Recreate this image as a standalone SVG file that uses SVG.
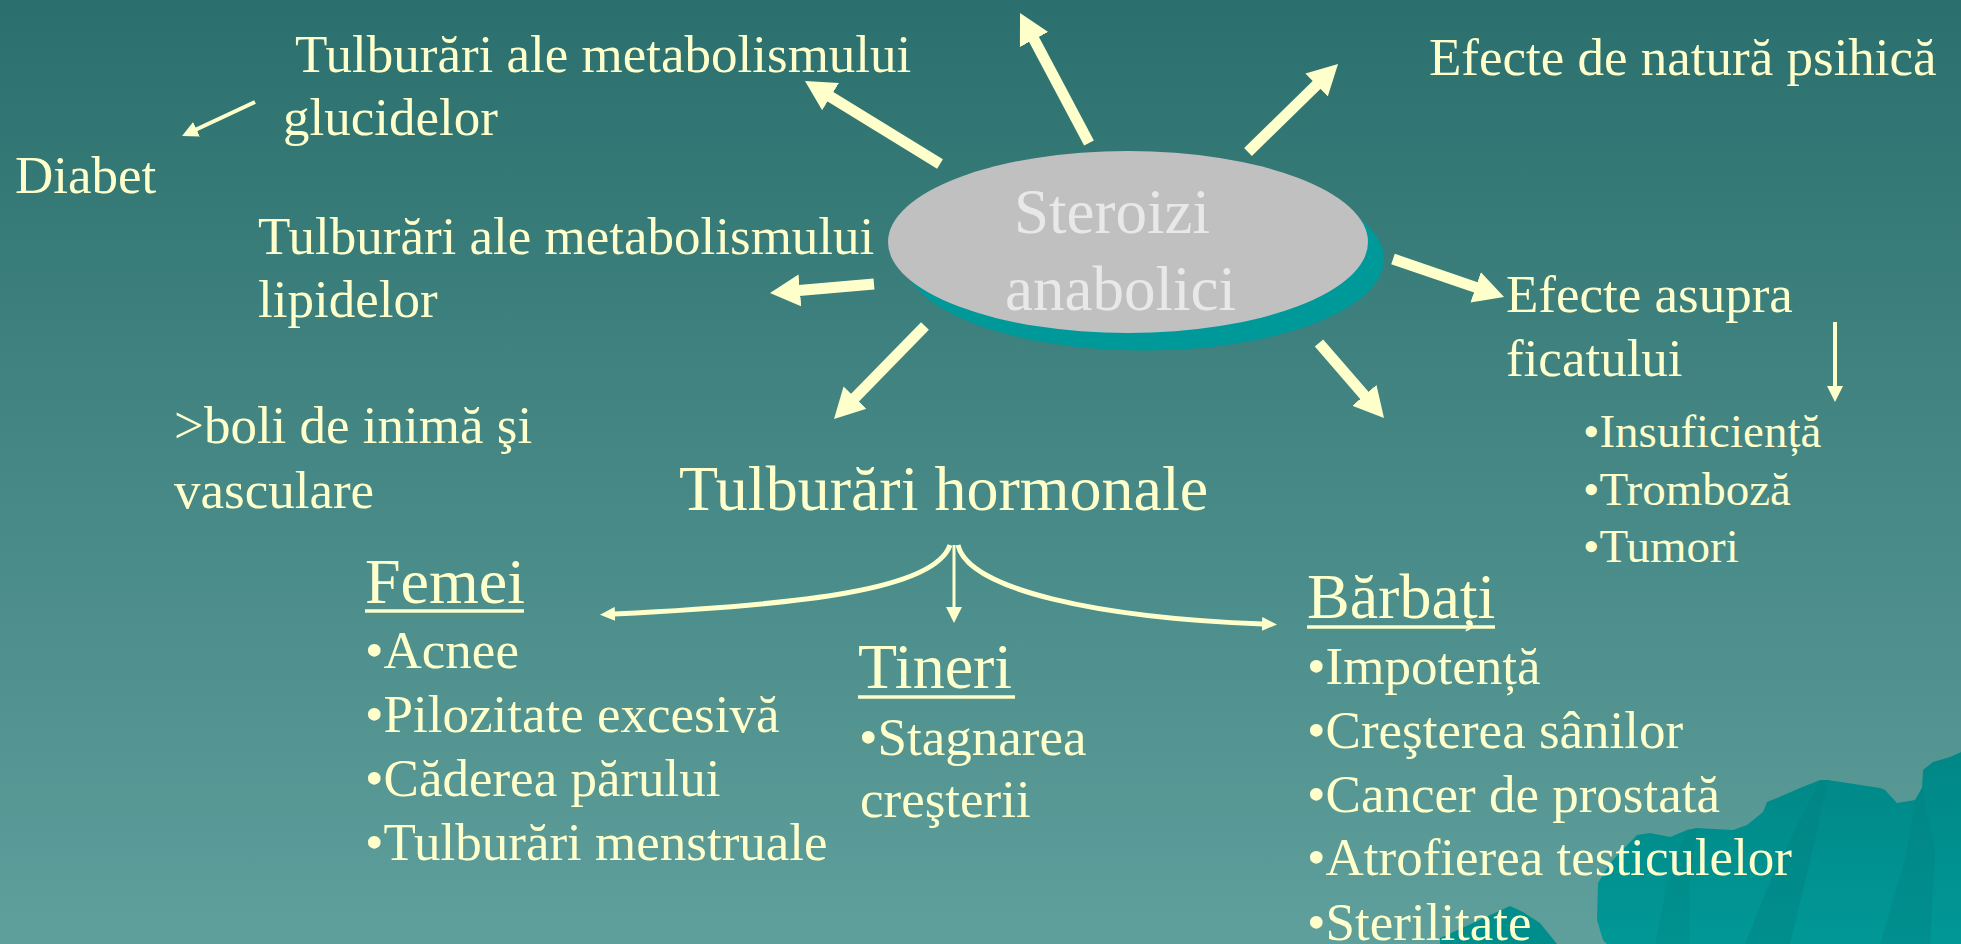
<svg xmlns="http://www.w3.org/2000/svg" width="1961" height="944" viewBox="0 0 1961 944">
<defs>
<linearGradient id="bg" x1="0" y1="0" x2="0" y2="1">
<stop offset="0" stop-color="#2b706e"/>
<stop offset="1" stop-color="#5f9f9c"/>
</linearGradient>
<linearGradient id="mt" x1="0" y1="0" x2="0" y2="1">
<stop offset="0" stop-color="#008786"/>
<stop offset="1" stop-color="#009896"/>
</linearGradient>
<marker id="bh" markerUnits="userSpaceOnUse" viewBox="0 -17 32 34" markerWidth="32" markerHeight="34" refX="1" refY="0" orient="auto">
<path d="M0,-16 L30,0 L0,16 z" fill="#ffffcc"/>
</marker>
<marker id="th" markerUnits="userSpaceOnUse" viewBox="0 -8 16 16" markerWidth="16" markerHeight="16" refX="1" refY="0" orient="auto">
<path d="M0,-8 L16,0 L0,8 z" fill="#ffffcc"/>
</marker>
<marker id="ts" markerUnits="userSpaceOnUse" viewBox="0 -7 15 14" markerWidth="15" markerHeight="14" refX="1" refY="0" orient="auto">
<path d="M0,-7 L15,0 L0,7 z" fill="#ffffcc"/>
</marker>
</defs>
<style>
text{font-family:"Liberation Serif","Times New Roman",serif;fill:#ffffcc;font-size:53px}
.big{font-size:64px}
.sm{font-size:47px}
.core{fill:#e8e8e8;font-size:63px}
.ul{stroke:#ffffcc;stroke-width:3.5}
.thick{stroke:#ffffcc;stroke-width:11;fill:none;marker-end:url(#bh)}
.thin{stroke:#ffffcc;stroke-width:4;fill:none;marker-end:url(#th)}
.curve{stroke:#ffffcc;stroke-width:5;fill:none;marker-end:url(#ts)}
</style>
<rect x="0" y="0" width="1961" height="944" fill="url(#bg)"/>
<g id="mountain">
<path d="M1961,752 L1950,757 L1933,762 L1923,770 L1922,788 L1915,800 L1897,803 L1885,790 L1880,788 L1828,780 L1820,780 L1800,788 L1777,798 L1767,802 L1763,812 L1747,825 L1733,830 L1697,828 L1687,830 L1670,837 L1650,833 L1637,835 L1610,863 L1598,883 L1597,920 L1603,940 L1607,944 L1961,944 Z" fill="url(#mt)"/>
<path d="M1820,780 L1828,780 L1815,840 L1790,944 L1745,944 L1775,870 Z" fill="#007f7d" opacity="0.35"/>
<path d="M1922,788 L1915,800 L1905,860 L1880,944 L1930,944 L1935,850 Z" fill="#007f7d" opacity="0.3"/>
<path d="M1697,828 L1687,830 L1668,880 L1655,944 L1690,944 L1690,880 Z" fill="#007f7d" opacity="0.25"/>
<path d="M1440,938 L1473,923 L1510,906 L1523,912 L1540,923 L1557,944 L1440,944 Z" fill="#008e8c"/>
</g>
<g id="connectors">
<line class="thick" x1="1089" y1="143" x2="1033.6" y2="38.6"/>
<line class="thick" x1="1248" y1="152" x2="1317.3" y2="84.3"/>
<line class="thick" x1="1393" y1="259" x2="1476.6" y2="287.6"/>
<line class="thick" x1="1319" y1="343" x2="1365" y2="396.1"/>
<line class="thick" x1="925" y1="326" x2="854.3" y2="398.3"/>
<line class="thick" x1="874" y1="284" x2="798.9" y2="290.5"/>
<line class="thick" x1="940" y1="164" x2="829.7" y2="96.2"/>
<line class="thin" x1="255" y1="102" x2="195.6" y2="129.7"/>
<line class="thin" x1="1835" y1="322" x2="1835" y2="387"/>
<line class="thin" x1="954" y1="545" x2="954" y2="608" style="stroke-width:3"/>
<path class="curve" d="M950,545 C935,590 800,605 614,614"/>
<path class="curve" d="M958,545 C968,590 1100,618 1263,624"/>
</g>
<g id="node-steroizi">
<ellipse cx="1144" cy="259" rx="240" ry="91.5" fill="#009999"/>
<ellipse cx="1128" cy="242" rx="240" ry="91" fill="#c0c0c0"/>
<text class="core" x="1014" y="233">Steroizi</text>
<text class="core" x="1005" y="310">anabolici</text>
</g>
<g id="node-glucide">
<text x="295" y="72">Tulburări ale metabolismului</text>
<text x="283" y="135">glucidelor</text>
</g>
<g id="node-diabet">
<text x="15" y="193">Diabet</text>
</g>
<g id="node-lipide">
<text x="258" y="254">Tulburări ale metabolismului</text>
<text x="258" y="317">lipidelor</text>
</g>
<g id="node-inima">
<text x="174" y="443">&gt;boli de inimă şi</text>
<text x="174" y="508">vasculare</text>
</g>
<g id="node-psihic">
<text x="1429" y="75">Efecte de natură psihică</text>
</g>
<g id="node-ficat">
<text x="1506" y="312">Efecte asupra</text>
<text x="1506" y="376">ficatului</text>
</g>
<g id="node-ficat-list">
<text class="sm" x="1583" y="447">•Insuficiență</text>
<text class="sm" x="1583" y="505">•Tromboză</text>
<text class="sm" x="1583" y="562">•Tumori</text>
</g>
<g id="node-hormonale">
<text class="big" x="679" y="510">Tulburări hormonale</text>
</g>
<g id="node-femei">
<text class="big" x="365" y="603">Femei</text>
<line class="ul" x1="365" y1="611" x2="524" y2="611"/>
<text x="365" y="668">•Acnee</text>
<text x="365" y="732">•Pilozitate excesivă</text>
<text x="365" y="796">•Căderea părului</text>
<text x="365" y="860">•Tulburări menstruale</text>
</g>
<g id="node-tineri">
<text class="big" x="858" y="688">Tineri</text>
<line class="ul" x1="858" y1="697" x2="1015" y2="697"/>
<text x="859" y="755">•Stagnarea</text>
<text x="860" y="817">creşterii</text>
</g>
<g id="node-barbati">
<text class="big" x="1307" y="618">Bărbați</text>
<line class="ul" x1="1307" y1="627" x2="1495" y2="627"/>
<text x="1307" y="684">•Impotență</text>
<text x="1307" y="748">•Creşterea sânilor</text>
<text x="1307" y="812">•Cancer de prostată</text>
<text x="1307" y="875">•Atrofierea testiculelor</text>
<text x="1307" y="940">•Sterilitate</text>
</g>
</svg>
